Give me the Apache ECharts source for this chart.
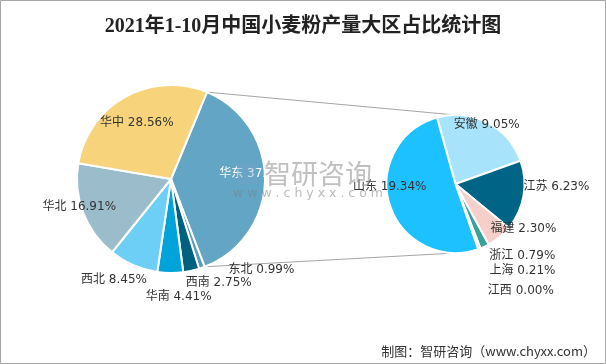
<!DOCTYPE html>
<html>
<head>
<meta charset="utf-8">
<script src="https://cdn.jsdelivr.net/npm/echarts@6/dist/echarts.min.js"></script>
<style>
html,body{margin:0;padding:0;background:#fff;}
#main{width:606px;height:364px;}
</style>
</head>
<body>
<div id="main"></div>
<script>
var titleText = '2021年1-10月中国小麦粉产量大区占比统计图';
var sourceText = '制图：智研咨询（www.chyxx.com）';
var leftNames = ['华东','东北','西南','华南','西北','华北','华中'];
var leftValues = [37.93, 0.99, 2.75, 4.41, 8.45, 16.91, 28.56];
var rightNames = ['安徽','江苏','福建','浙江','上海','江西','山东'];
var rightValues = [9.05, 6.23, 2.30, 0.79, 0.21, 0.00, 19.34];

var leftColors = ['#62A5C5','#5D9CB8','#00607F','#00A3DA','#6DCFF6','#9BBCCB','#F7D47C'];
var rightColors = ['#A7E3FA','#006486','#F6CFCA','#3AA198','#4BACC6','#F79646','#1DC1FF'];
var leftOffsets = [[35,-6],[74,44],[37,55],[8,68],[-37,55],[-45,10],[-10,-12]];
var rightOffsets = [[14,-26],[64,-4],[44,16],[51,38],[54,52],[53,71],[-30,-8]];

var L = {cx:171, cy:179, r:94, start:67.5};
var R = {cx:455.5, cy:184, r:69, start:105.6};

function mk(names, vals, colors){
  return names.map(function(n,i){return {name:n, value:vals[i], itemStyle:{color:colors[i]}};});
}
function pt(c, degCCW, r){
  var a = degCCW*Math.PI/180;
  return [c.cx + r*Math.cos(a), c.cy - r*Math.sin(a)];
}
var leftTotal = leftValues.reduce(function(a,b){return a+b;},0);
var huadongDeg = leftValues[0]/leftTotal*360;
var lTop = pt(L, L.start, L.r);
var lBot = pt(L, L.start - huadongDeg, L.r);
var rTop = pt(R, 90, R.r);
var rBot = pt(R, -90, R.r);

var labelFont = {fontSize:12, fontFamily:'"DejaVu Sans","Noto Sans CJK SC",sans-serif', color:'#333'};
function fmt(p){ return p.name + ' ' + p.value.toFixed(2) + '%'; }

var chart = echarts.init(document.getElementById('main'), null, {renderer:'canvas'});
chart.setOption({
  animation:false,
  backgroundColor:'#fff',
  title:{
    text:titleText, left:'center', top:12,
    textStyle:{fontSize:20, fontWeight:'bold', color:'#222', fontFamily:'"Liberation Serif","Noto Sans CJK SC",serif'}
  },
  series:[
    {
      type:'pie', center:[L.cx, L.cy], radius:L.r, startAngle:L.start, clockwise:true,
      avoidLabelOverlap:false, silent:true,
      itemStyle:{borderColor:'#fff', borderWidth:2},
      label:Object.assign({show:true, position:'inside', formatter:fmt}, labelFont),
      labelLine:{show:false},
      labelLayout:function(p){ var o = leftOffsets[p.dataIndex]; return {dx:o[0], dy:o[1]}; },
      data:mk(leftNames, leftValues, leftColors).map(function(d,i){
        if(i===0){ d.label = {color:'#fff'}; }
        return d;
      })
    },
    {
      type:'pie', center:[R.cx, R.cy], radius:R.r, startAngle:R.start, clockwise:true,
      avoidLabelOverlap:false, silent:true, stillShowZeroSum:true,
      itemStyle:{borderColor:'#fff', borderWidth:2},
      label:Object.assign({show:true, position:'inside', formatter:fmt}, labelFont),
      labelLine:{show:false},
      labelLayout:function(p){ var o = rightOffsets[p.dataIndex]; return {dx:o[0], dy:o[1]}; },
      data:mk(rightNames, rightValues, rightColors)
    }
  ],
  graphic:[
    {type:'rect', z:200, shape:{x:0.5,y:0.5,width:605,height:363}, style:{fill:'none', stroke:'#A6A6A6', lineWidth:1}},
    {type:'line', z:1, shape:{x1:lTop[0],y1:lTop[1],x2:rTop[0],y2:rTop[1]}, style:{stroke:'#A6A6A6', lineWidth:1}},
    {type:'line', z:1, shape:{x1:lBot[0],y1:lBot[1],x2:rBot[0],y2:rBot[1]}, style:{stroke:'#A6A6A6', lineWidth:1}},
    {type:'text', z:150, right:10, bottom:6,
      style:{text:sourceText, fontSize:13, fill:'#333', fontFamily:'"Noto Sans CJK SC",sans-serif'}},
    {type:'rect', z:100, shape:{x:237,y:163,width:20,height:21,r:2}, style:{fill:'rgba(120,160,200,0.35)'}},
    {type:'text', z:100, x:264, y:160, style:{text:'智研咨询', fontSize:27, fill:'rgba(150,150,150,0.6)', fontFamily:'"Noto Sans CJK SC",sans-serif'}},
    {type:'text', z:100, x:233, y:187, style:{text:'w w w . c h y x x . c o m', fontSize:12.5, fill:'rgba(130,130,130,0.55)', fontFamily:'"DejaVu Sans",sans-serif'}}
  ]
});
</script>
</body>
</html>
